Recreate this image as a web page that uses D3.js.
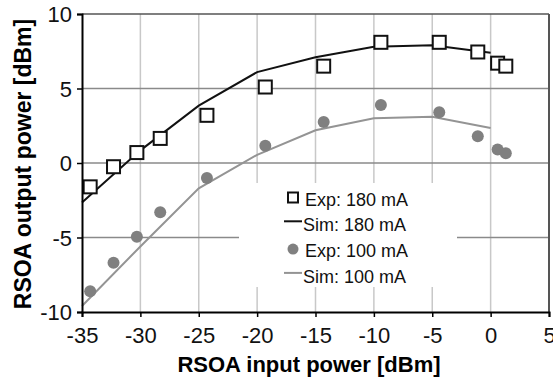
<!DOCTYPE html>
<html>
<head>
<meta charset="utf-8">
<script src="https://cdn.jsdelivr.net/npm/d3@7.9.0/dist/d3.min.js"></script>
<style>
  body { margin: 0; background: #fff; }
  svg { display: block; font-family: "Liberation Sans", Arial, sans-serif; }
</style>
</head>
<body>
<svg width="553" height="378"></svg>
<script>
// measured points (input power, dBm)
const expX = [-34.3, -32.3, -30.3, -28.3, -24.3, -19.3, -14.3, -9.4, -4.4, -1.1, 0.6, 1.3];
const exp180 = [-1.6, -0.25, 0.7, 1.65, 3.2, 5.1, 6.5, 8.1, 8.1, 7.45, 6.7, 6.5];
const exp100 = [-8.6, -6.7, -4.95, -3.3, -1.0, 1.15, 2.75, 3.9, 3.4, 1.8, 0.9, 0.65];

// simulation curves
const simX = [-35, -30, -25, -20, -15, -10, -5, 0];
const sim180 = [-2.65, 0.85, 3.85, 6.1, 7.1, 7.8, 7.9, 7.4];
const sim100 = [-9.6, -5.6, -1.7, 0.55, 2.2, 3.0, 3.1, 2.35];

const xTicks = [-35, -30, -25, -20, -15, -10, -5, 0, 5];
const yTicks = [-10, -5, 0, 5, 10];
const legendLabels = ['Exp: 180 mA', 'Sim: 180 mA', 'Exp: 100 mA', 'Sim: 100 mA'];

const svg = d3.select('svg');
const x = d3.scaleLinear().domain([-35, 5]).range([82, 549]);
const y = d3.scaleLinear().domain([-10, 10]).range([312, 14]);

// vertical grid (light)
svg.append('g')
  .selectAll('line')
  .data(xTicks.slice(1, -1))
  .join('line')
  .attr('x1', d => x(d)).attr('x2', d => x(d))
  .attr('y1', y(10)).attr('y2', y(-10))
  .attr('stroke', '#c8c8c8').attr('stroke-width', 1.5);

// horizontal grid (darker)
svg.append('g')
  .selectAll('line')
  .data(yTicks.slice(1, -1))
  .join('line')
  .attr('x1', x(-35)).attr('x2', x(5))
  .attr('y1', d => y(d)).attr('y2', d => y(d))
  .attr('stroke', '#8a8a8a').attr('stroke-width', 1.5);

// top and right frame
svg.append('line')
  .attr('x1', x(-35)).attr('x2', x(5)).attr('y1', y(10)).attr('y2', y(10))
  .attr('stroke', '#555').attr('stroke-width', 1.5);
svg.append('line')
  .attr('x1', x(5)).attr('x2', x(5)).attr('y1', y(10)).attr('y2', y(-10))
  .attr('stroke', '#555').attr('stroke-width', 2);

// legend background hides the grid beneath it
const legend = svg.append('g');
legend.append('rect')
  .attr('x', 239).attr('y', 183).attr('width', 218).attr('height', 104)
  .attr('fill', '#fff');

// simulation lines
const line = d3.line().x(d => x(d[0])).y(d => y(d[1]));
svg.append('path')
  .attr('d', line(d3.zip(simX, sim100)))
  .attr('fill', 'none').attr('stroke', '#949494').attr('stroke-width', 2);
svg.append('path')
  .attr('d', line(d3.zip(simX, sim180)))
  .attr('fill', 'none').attr('stroke', '#111').attr('stroke-width', 2);

// experimental points
svg.append('g')
  .selectAll('circle')
  .data(d3.zip(expX, exp100))
  .join('circle')
  .attr('cx', d => x(d[0])).attr('cy', d => y(d[1]))
  .attr('r', 6)
  .attr('fill', '#808080');

const sq = 13;
svg.append('g')
  .selectAll('rect')
  .data(d3.zip(expX, exp180))
  .join('rect')
  .attr('x', d => x(d[0]) - sq / 2).attr('y', d => y(d[1]) - sq / 2)
  .attr('width', sq).attr('height', sq)
  .attr('fill', '#fff').attr('stroke', '#111').attr('stroke-width', 2);

// axes (plain hyphen minus like the original)
const fmt = d => String(d);
const xAxis = svg.append('g')
  .attr('transform', `translate(0,${y(-10)})`)
  .call(d3.axisBottom(x).tickValues(xTicks).tickSize(5).tickPadding(10).tickFormat(fmt));
const yAxis = svg.append('g')
  .attr('transform', `translate(${x(-35)},0)`)
  .call(d3.axisLeft(y).tickValues(yTicks).tickSize(5).tickPadding(5).tickFormat(fmt));

[xAxis, yAxis].forEach(g => {
  g.select('.domain').attr('stroke', '#000').attr('stroke-width', 2);
  g.selectAll('.tick line').attr('stroke', '#000').attr('stroke-width', 1.5);
  g.selectAll('.tick text')
    .attr('fill', '#111')
    .style('font-size', '22px')
    .style('font-family', '"Liberation Sans", Arial, sans-serif');
});
xAxis.selectAll('.tick text').attr('dy', '0.72em');
yAxis.selectAll('.tick text').attr('dy', '0.36em');

// axis titles
svg.append('text')
  .attr('x', 309).attr('y', 372)
  .attr('text-anchor', 'middle')
  .style('font-size', '22px').style('font-weight', 'bold')
  .text('RSOA input power [dBm]');
svg.append('text')
  .attr('transform', `translate(31,164) rotate(-90)`)
  .attr('text-anchor', 'middle')
  .style('font-size', '23px').style('font-weight', 'bold')
  .text('RSOA output power [dBm]');

// legend entries
const rowY = i => 205.5 + i * 25.8;
legend.append('rect')
  .attr('x', 288).attr('y', rowY(0) - 13).attr('width', 10).attr('height', 10)
  .attr('fill', '#fff').attr('stroke', '#111').attr('stroke-width', 2);
legend.append('line')
  .attr('x1', 284).attr('x2', 302).attr('y1', rowY(1) - 10).attr('y2', rowY(1) - 10)
  .attr('stroke', '#111').attr('stroke-width', 2);
legend.append('circle')
  .attr('cx', 293).attr('cy', rowY(2) - 8).attr('r', 5.5)
  .attr('fill', '#808080');
legend.append('line')
  .attr('x1', 284).attr('x2', 302).attr('y1', rowY(3) - 10).attr('y2', rowY(3) - 10)
  .attr('stroke', '#949494').attr('stroke-width', 2);

legend.selectAll('text.lbl')
  .data(legendLabels)
  .join('text')
  .attr('class', 'lbl')
  .attr('x', (d, i) => i % 2 ? 303 : 305)
  .attr('y', (d, i) => rowY(i))
  .attr('fill', '#111')
  .style('font-size', '18px')
  .text(d => d);
</script>
</body>
</html>
